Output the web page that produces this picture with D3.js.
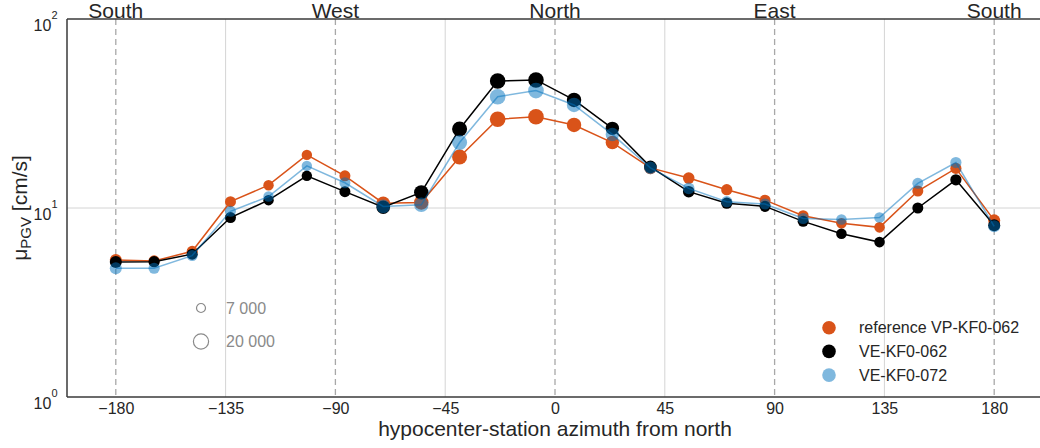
<!DOCTYPE html>
<html>
<head>
<meta charset="utf-8">
<script src="https://cdn.jsdelivr.net/npm/d3@7"></script>
<style>
  body { margin: 0; background: #fff; }
  svg { font-family: "Liberation Sans", Arial, sans-serif; }
</style>
</head>
<body>
<svg class="chart"></svg>
<script>
//======
// Data
//======

var azimuth = [-180, -164.3, -148.7, -133.0, -117.4, -101.7, -86.1, -70.4, -54.8, -39.1, -23.5, -7.8,
  7.8, 23.5, 39.1, 54.8, 70.4, 86.1, 101.7, 117.4, 133.0, 148.7, 164.3, 180];

var refVP062 = [5.3, 5.25, 5.9, 10.8, 13.2, 19.1, 14.8, 10.6, 10.7, 18.6, 29.5, 30.4,
  27.5, 22.2, 16.3, 14.4, 12.5, 11.0, 9.1, 8.3, 7.9, 12.3, 16.2, 8.6];

var ve062 = [5.18, 5.2, 5.7, 8.9, 11.0, 14.8, 12.2, 10.1, 12.1, 26.2, 47.0, 47.6,
  37.3, 26.4, 16.5, 12.2, 10.6, 10.2, 8.5, 7.3, 6.6, 10.0, 14.1, 8.1];

var ve072 = [4.8, 4.8, 5.6, 9.6, 11.5, 16.7, 13.6, 10.2, 10.4, 22.2, 38.8, 41.8,
  35.1, 24.5, 16.3, 12.7, 10.8, 10.5, 8.8, 8.7, 8.9, 13.5, 17.4, 8.0];

// number of records per azimuth bin (marker size)
var binCount = [12500, 10900, 10500, 10500, 9400, 9400, 10500, 16000, 18000, 19500, 21100, 21100,
  18000, 15500, 13700, 11600, 10900, 10500, 10500, 9700, 9700, 10500, 10900, 12500];

var xTicks = [-180, -135, -90, -45, 0, 45, 90, 135, 180];
var yTicks = [1, 10, 100];
var directions = ["South", "West", "North", "East", "South"];
var directionTicks = [-180, -90, 0, 90, 180];
var sizeLegend = [7000, 20000];

var series = [
  { name: "reference VP-KF0-062", values: refVP062, color: "#D95319", alpha: 1 },
  { name: "VE-KF0-062", values: ve062, color: "#000000", alpha: 1 },
  { name: "VE-KF0-072", values: ve072, color: "#0072BD", alpha: 0.5 }
];

//=======
// Chart
//=======

var W = 1040, H = 448;
var margin = { left: 67, top: 19, bottom: 397, right: 1043 };
var textColor = "#262626";

var svg = d3.select(".chart")
  .attr("width", W)
  .attr("height", H);

var x = d3.scaleLinear().domain([-200, 200]).range([margin.left, margin.right]);
var y = d3.scaleLog().domain([1, 100]).range([margin.bottom, margin.top]);
var r = d3.scaleSqrt().domain([0, 20000]).range([0, 7.6]);

// grid
svg.append("g").selectAll("line")
  .data([-135, -45, 45, 135])
  .enter().append("line")
  .attr("x1", function(d) { return x(d); })
  .attr("x2", function(d) { return x(d); })
  .attr("y1", margin.top).attr("y2", margin.bottom)
  .attr("stroke", "#d4d4d4").attr("stroke-width", 1);

svg.append("line")
  .attr("x1", margin.left).attr("x2", W)
  .attr("y1", y(10)).attr("y2", y(10))
  .attr("stroke", "#d4d4d4").attr("stroke-width", 1);

svg.append("g").selectAll("line")
  .data(directionTicks)
  .enter().append("line")
  .attr("x1", function(d) { return x(d); })
  .attr("x2", function(d) { return x(d); })
  .attr("y1", margin.top).attr("y2", margin.bottom)
  .attr("stroke", "#a8a8a8").attr("stroke-width", 1.3)
  .attr("stroke-dasharray", "6,4");

// series
var line = d3.line()
  .x(function(d, i) { return x(azimuth[i]); })
  .y(function(d) { return y(d); });

series.forEach(function(s) {
  svg.append("path")
    .datum(s.values)
    .attr("d", line)
    .attr("fill", "none")
    .attr("stroke", s.color)
    .attr("stroke-opacity", s.alpha)
    .attr("stroke-width", 1.5);
  svg.append("g").selectAll("circle")
    .data(s.values)
    .enter().append("circle")
    .attr("cx", function(d, i) { return x(azimuth[i]); })
    .attr("cy", function(d) { return y(d); })
    .attr("r", function(d, i) { return r(binCount[i]); })
    .attr("fill", s.color)
    .attr("fill-opacity", s.alpha);
});

// axes
var xAxis = d3.axisBottom(x)
  .tickValues(xTicks)
  .tickSize(0)
  .tickPadding(6);

var gx = svg.append("g")
  .attr("transform", "translate(0," + margin.bottom + ")")
  .call(xAxis);
gx.select(".domain").remove();
gx.selectAll("text")
  .attr("font-size", 16)
  .attr("font-family", "Liberation Sans, Arial, sans-serif")
  .attr("fill", textColor);

var yAxis = d3.axisLeft(y)
  .tickValues(yTicks)
  .tickSize(0)
  .tickPadding(9.5)
  .tickFormat(function() { return ""; });

var gy = svg.append("g")
  .attr("transform", "translate(" + margin.left + ",0)")
  .call(yAxis);
gy.select(".domain").remove();
gy.selectAll(".tick text")
  .attr("font-size", 16)
  .attr("font-family", "Liberation Sans, Arial, sans-serif")
  .attr("fill", textColor)
  .attr("dy", "0.72em")
  .each(function(d) {
    var t = d3.select(this);
    t.append("tspan").text("10");
    t.append("tspan")
      .attr("font-size", 11)
      .attr("dy", -12)
      .text(Math.round(Math.log10(d)));
  });

// top direction labels
svg.append("g").selectAll("text")
  .data(directions)
  .enter().append("text")
  .attr("x", function(d, i) { return x(directionTicks[i]); })
  .attr("y", 17.5)
  .attr("text-anchor", "middle")
  .attr("font-size", 21)
  .attr("fill", textColor)
  .text(function(d) { return d; });

// spines
svg.append("line")
  .attr("x1", margin.left).attr("x2", W).attr("y1", margin.top).attr("y2", margin.top)
  .attr("stroke", "#3a3a3a").attr("stroke-width", 1.5);
svg.append("line")
  .attr("x1", margin.left).attr("x2", W).attr("y1", margin.bottom).attr("y2", margin.bottom)
  .attr("stroke", "#3a3a3a").attr("stroke-width", 1.5);
svg.append("line")
  .attr("x1", margin.left).attr("x2", margin.left).attr("y1", margin.top).attr("y2", margin.bottom)
  .attr("stroke", "#3a3a3a").attr("stroke-width", 1.5);

// axis titles
svg.append("text")
  .attr("x", (margin.left + margin.right) / 2)
  .attr("y", 436)
  .attr("text-anchor", "middle")
  .attr("font-size", 21)
  .attr("fill", textColor)
  .text("hypocenter-station azimuth from north");

var ylab = svg.append("text")
  .attr("transform", "translate(27," + ((margin.top + margin.bottom) / 2) + ") rotate(-90)")
  .attr("text-anchor", "middle")
  .attr("font-size", 21)
  .attr("fill", textColor);
ylab.append("tspan").text("μ");
ylab.append("tspan").attr("font-size", 15).attr("dy", 4).text("PGV");
ylab.append("tspan").attr("dy", -4).text(" [cm/s]");

// size legend
var sl = svg.append("g").selectAll("g")
  .data(sizeLegend)
  .enter().append("g")
  .attr("transform", function(d, i) { return "translate(201," + (308 + i * 33.5) + ")"; });
sl.append("circle")
  .attr("r", function(d) { return r(d); })
  .attr("fill", "none")
  .attr("stroke", "#8a8a8a")
  .attr("stroke-width", 1.2);
sl.append("text")
  .attr("x", 25)
  .attr("dy", "0.35em")
  .attr("font-size", 16)
  .attr("fill", "#8a8a8a")
  .text(function(d) { return d3.format(",")(d).replace(",", " "); });

// series legend
var lg = svg.append("g").selectAll("g")
  .data(series)
  .enter().append("g")
  .attr("transform", function(d, i) { return "translate(829," + (327.7 + i * 23.7) + ")"; });
lg.append("circle")
  .attr("r", 6.8)
  .attr("fill", function(d) { return d.color; })
  .attr("fill-opacity", function(d) { return d.alpha; });
lg.append("text")
  .attr("x", 30)
  .attr("dy", "0.35em")
  .attr("font-size", 16)
  .attr("fill", textColor)
  .text(function(d) { return d.name; });
</script>
</body>
</html>
